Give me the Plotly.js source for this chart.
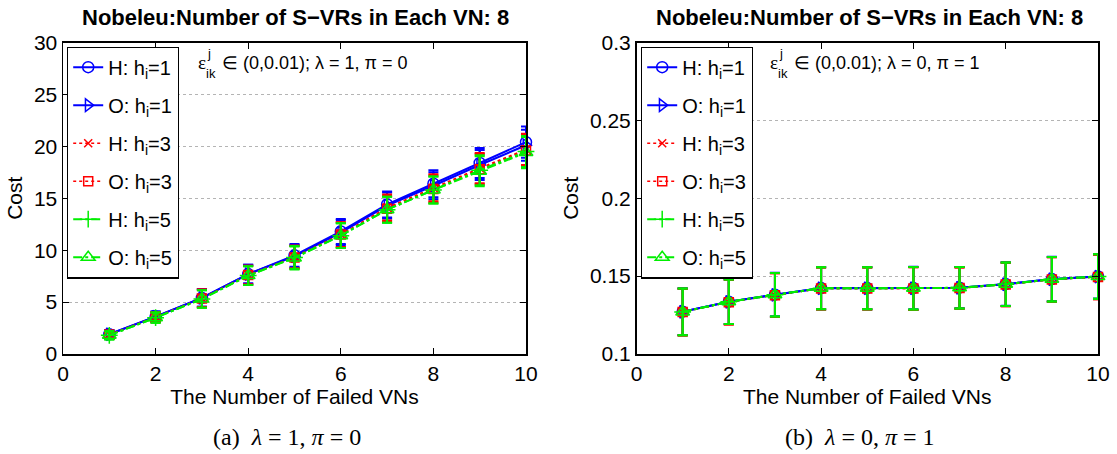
<!DOCTYPE html>
<html>
<head>
<meta charset="utf-8">
<script src="https://cdn.plot.ly/plotly-3.0.1.min.js"></script>
<style>html,body{margin:0;padding:0;background:#fff;}#chart{width:1117px;height:454px;}</style>
</head>
<body>
<div id="chart"></div>
<script>
// ---- data ----
const failedVNs = [1, 2, 3, 4, 5, 6, 7, 8, 9, 10];
const seriesNames = ["H: h<sub>i</sub>=1", "O: h<sub>i</sub>=1", "H: h<sub>i</sub>=3", "O: h<sub>i</sub>=3", "H: h<sub>i</sub>=5", "O: h<sub>i</sub>=5"];

// (a) lambda=1, pi=0
const costA_H1 = [1.9, 3.6, 5.4, 7.7, 9.5, 11.8, 14.4, 16.4, 18.4, 20.4];
const costA_O1 = [1.9, 3.6, 5.4, 7.7, 9.4, 11.7, 14.3, 16.2, 18.2, 20.1];
const costA_H3 = [1.85, 3.55, 5.35, 7.6, 9.35, 11.5, 14.1, 16.0, 17.9, 19.7];
const costA_O3 = [1.85, 3.55, 5.35, 7.6, 9.3, 11.5, 14.0, 15.9, 17.8, 19.6];
const costA_H5 = [1.8, 3.5, 5.3, 7.55, 9.3, 11.4, 13.9, 15.8, 17.7, 19.5];
const costA_O5 = [1.8, 3.5, 5.3, 7.55, 9.25, 11.4, 13.9, 15.8, 17.6, 19.4];
const errA = [0.4, 0.5, 0.85, 0.9, 1.1, 1.2, 1.25, 1.3, 1.45, 1.5];

// (b) lambda=0, pi=1
const costB_H1 = [0.1272, 0.1336, 0.1381, 0.1423, 0.1423, 0.1423, 0.1426, 0.1449, 0.1481, 0.1498];
const costB_O1 = [0.1271, 0.1335, 0.1380, 0.1422, 0.1422, 0.1422, 0.1425, 0.1448, 0.1480, 0.1497];
const costB_H3 = [0.1269, 0.1333, 0.1378, 0.1420, 0.1420, 0.1420, 0.1423, 0.1446, 0.1478, 0.1495];
const costB_O3 = [0.1269, 0.1333, 0.1378, 0.1420, 0.1420, 0.1420, 0.1423, 0.1446, 0.1478, 0.1495];
const costB_H5 = [0.1270, 0.1335, 0.1380, 0.1422, 0.1422, 0.1422, 0.1425, 0.1448, 0.1480, 0.1497];
const costB_O5 = [0.1270, 0.1335, 0.1380, 0.1422, 0.1422, 0.1422, 0.1425, 0.1448, 0.1480, 0.1497];
const errB = [0.015, 0.0143, 0.014, 0.0135, 0.0135, 0.0137, 0.0133, 0.014, 0.0143, 0.0143];

const titleText = "Nobeleu:Number of S\u2212VRs in Each VN: 8";
const xTitle = "The Number of Failed VNs";
const yTitle = "Cost";
const captionA = "(a)  <i>\u03bb</i> = 1, <i>\u03c0</i> = 0";
const captionB = "(b)  <i>\u03bb</i> = 0, <i>\u03c0</i> = 1";
const noteA = "\u2208 (0,0.01); \u03bb = 1, \u03c0 = 0";
const noteB = "\u2208 (0,0.01); \u03bb = 0, \u03c0 = 1";

// ---- styles ----
const W = 1117, H = 454;
const px = v => v / W, py = v => 1 - v / H;
const styles = [
  {color: "#0000ff", dash: "solid", symbol: "circle-open", size: 11, width: 2},
  {color: "#0000ff", dash: "solid", symbol: "triangle-right-open", size: 11, width: 2},
  {color: "#ff0000", dash: "dot", symbol: "x-thin-open", size: 8, width: 1.5},
  {color: "#ff0000", dash: "dot", symbol: "square-open", size: 9, width: 1.5},
  {color: "#00ee00", dash: "dashdot", symbol: "cross-thin-open", size: 12, width: 2},
  {color: "#00ee00", dash: "dashdot", symbol: "triangle-up-open", size: 12, width: 2}
];
const FONT = "Liberation Sans, Arial, Helvetica, sans-serif";

function mk(ys, err, i, xa, ya, leg) {
  const s = styles[i];
  return {
    type: "scatter", mode: "lines+markers",
    x: failedVNs, y: ys, xaxis: xa, yaxis: ya,
    name: seriesNames[i], legend: leg, legendgroup: leg + i,
    cliponaxis: false,
    line: {color: s.color, dash: s.dash, width: s.width},
    marker: {symbol: s.symbol, size: s.size, color: s.color, line: {color: s.color, width: 1.5}},
    error_y: {type: "data", array: err, visible: true, color: s.color, thickness: 2, width: 5}
  };
}
const A = [costA_H1, costA_O1, costA_H3, costA_O3, costA_H5, costA_O5];
const B = [costB_H1, costB_O1, costB_H3, costB_O3, costB_H5, costB_O5];
const data = [];
A.forEach((ys, i) => data.push(mk(ys, errA, i, "x", "y", "legend")));
B.forEach((ys, i) => data.push(mk(ys, errB, i, "x2", "y2", "legend2")));

const axBase = {
  showline: true, linecolor: "#000", linewidth: 1.5, mirror: "ticks",
  ticks: "inside", ticklen: 6, tickcolor: "#000", tickwidth: 1,
  tickfont: {family: FONT, size: 21, color: "#000"}, zeroline: false
};
const xBase = Object.assign({}, axBase, {range: [0, 10], dtick: 2, tick0: 0, showgrid: false,
  title: {text: xTitle, font: {family: FONT, size: 21, color: "#000"}, standoff: 0}});
const yGrid = {showgrid: true, gridcolor: "#b4b4b4", griddash: "dot", gridwidth: 1};

const legBase = {
  bgcolor: "#fff", bordercolor: "#000", borderwidth: 1.2,
  font: {family: FONT, size: 20, color: "#000"},
  xanchor: "left", yanchor: "top", tracegroupgap: 9, itemwidth: 30
};

const annFont = (sz) => ({family: FONT, size: sz, color: "#000"});
function note(x0, y0, txt) {
  return [
    {text: "\u03b5", x: px(x0), y: py(y0), xref: "paper", yref: "paper", xanchor: "left", yanchor: "middle", showarrow: false, font: {family: "Liberation Serif, serif", size: 19, color: "#000"}},
    {text: "j", x: px(x0 + 9), y: py(y0 - 10), xref: "paper", yref: "paper", xanchor: "left", yanchor: "middle", showarrow: false, font: annFont(13)},
    {text: "ik", x: px(x0 + 8), y: py(y0 + 10), xref: "paper", yref: "paper", xanchor: "left", yanchor: "middle", showarrow: false, font: annFont(13)},
    {text: txt, x: px(x0 + 24), y: py(y0), xref: "paper", yref: "paper", xanchor: "left", yanchor: "middle", showarrow: false, font: annFont(18)}
  ];
}

const layout = {
  width: W, height: H, margin: {l: 0, r: 0, t: 0, b: 0},
  paper_bgcolor: "#fff", plot_bgcolor: "#fff", showlegend: true,
  font: {family: FONT, color: "#000"},
  xaxis: Object.assign({}, xBase, {domain: [px(63), px(526)], anchor: "y"}),
  yaxis: Object.assign({}, axBase, yGrid, {domain: [py(354), py(42.5)], range: [0, 30], dtick: 5, anchor: "x",
    title: {text: yTitle, font: {family: FONT, size: 21, color: "#000"}, standoff: 5}}),
  xaxis2: Object.assign({}, xBase, {domain: [px(636.5), px(1098)], anchor: "y2"}),
  yaxis2: Object.assign({}, axBase, yGrid, {domain: [py(354), py(42.5)], range: [0.1, 0.3], dtick: 0.05, tick0: 0.1, anchor: "x2",
    title: {text: yTitle, font: {family: FONT, size: 21, color: "#000"}, standoff: 5}}),
  legend: Object.assign({}, legBase, {x: px(67), y: py(46.5)}),
  legend2: Object.assign({}, legBase, {x: px(641), y: py(46.5)}),
  annotations: [
    {text: "<b>" + titleText + "</b>", x: px(295), y: py(18), xref: "paper", yref: "paper", xanchor: "center", yanchor: "middle", showarrow: false, font: annFont(22)},
    {text: "<b>" + titleText + "</b>", x: px(869), y: py(18), xref: "paper", yref: "paper", xanchor: "center", yanchor: "middle", showarrow: false, font: annFont(22)},
    {text: captionA, x: px(287), y: py(437), xref: "paper", yref: "paper", xanchor: "center", yanchor: "middle", showarrow: false, font: {family: "Liberation Serif, Times New Roman, serif", size: 24, color: "#000"}},
    {text: captionB, x: px(860), y: py(437), xref: "paper", yref: "paper", xanchor: "center", yanchor: "middle", showarrow: false, font: {family: "Liberation Serif, Times New Roman, serif", size: 24, color: "#000"}}
  ].concat(note(196, 63, noteA), note(768, 63, noteB))
};

Plotly.newPlot("chart", data, layout, {staticPlot: true, displayModeBar: false});
</script>
</body>
</html>
